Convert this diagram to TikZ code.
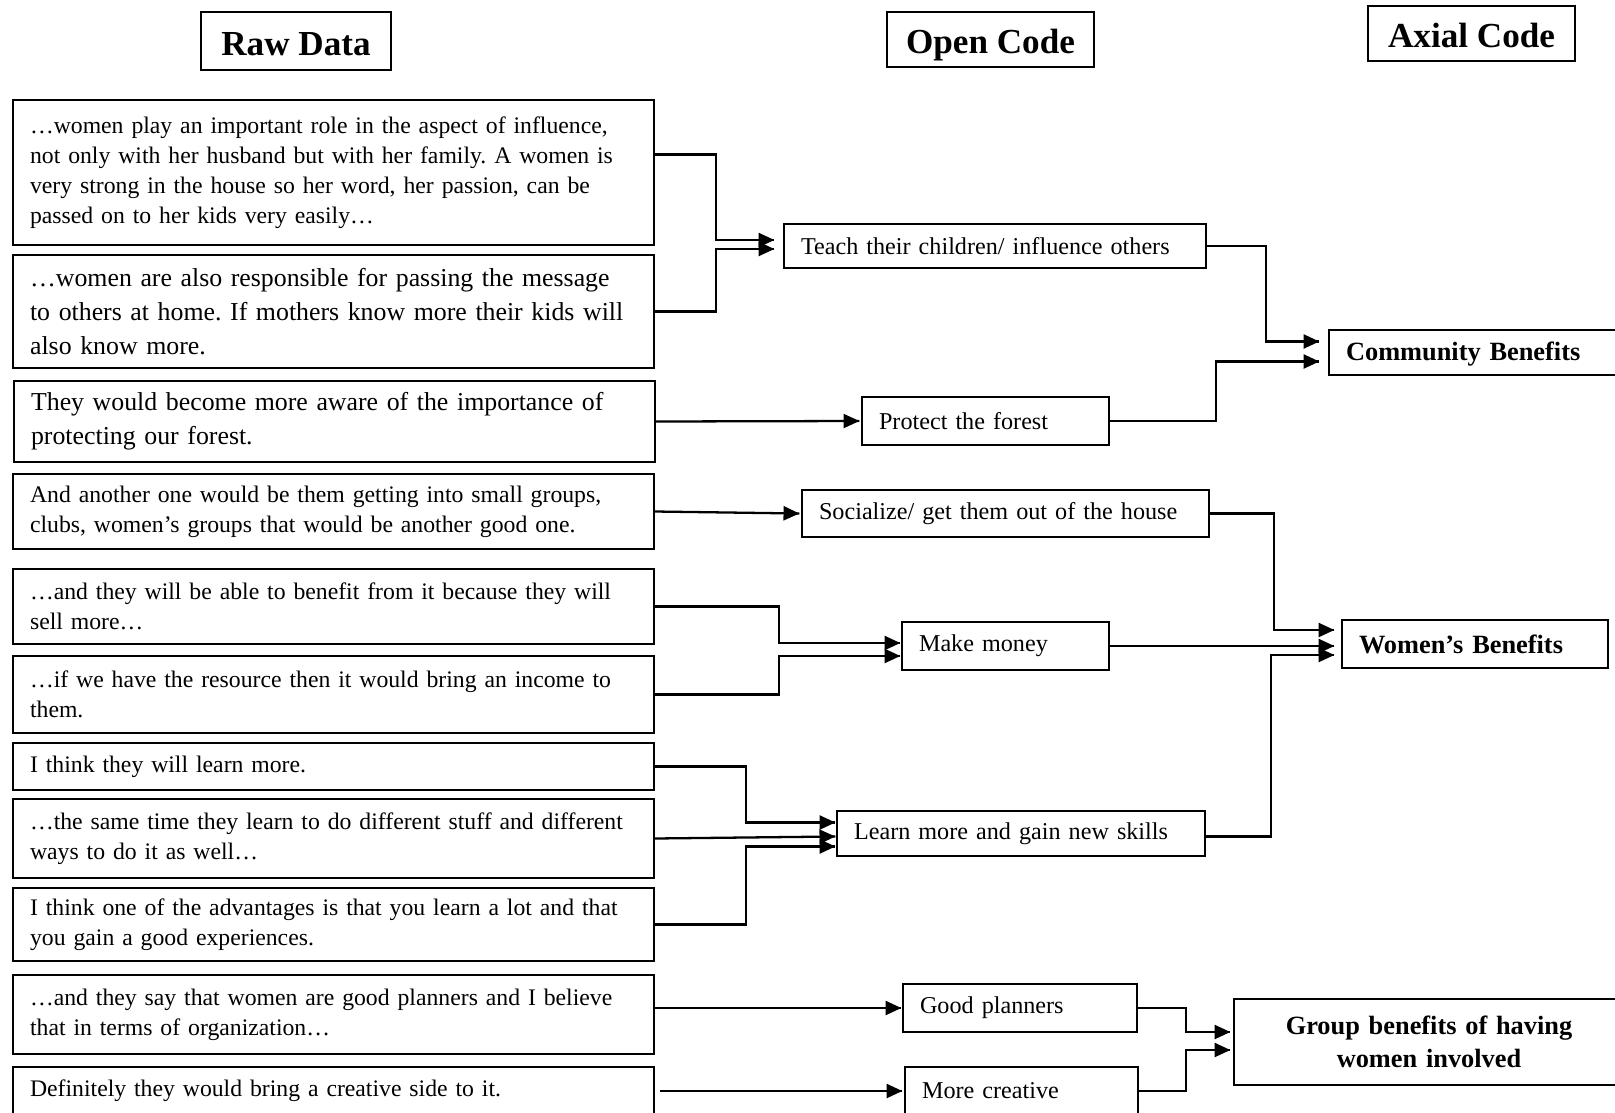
\documentclass[tikz,border=0pt]{standalone}
\usepackage{fontspec}
\setmainfont{Liberation Serif}
\frenchspacing
\usetikzlibrary{arrows.meta}
\usetikzlibrary{calc}
\usetikzlibrary{decorations.markings}
\tikzset{feed/.style = {line width=1.3pt,
                        decoration={markings,
                                    mark=at position 1 with {\arrow{Triangle[length=9pt, width=8pt]}}},
                        postaction={decorate}}}
\tikzset{head/.style = {draw, line width=0.8pt, inner sep=0, text height=16pt, text depth=0pt,
                        font=\fontsize{20}{24}\selectfont\bfseries}}
\tikzset{rawbox/.style = {draw, line width=0.8pt, align=left, inner xsep=0.34cm, inner ysep=0,
                          text width=12.14cm, font=\fontsize{13.5}{17}\selectfont}}
\tikzset{loud/.style = {font=\fontsize{14.7}{19.2}\selectfont}}
\tikzset{openbox/.style = {draw, line width=0.8pt, align=left, inner xsep=0.34cm, inner ysep=0,
                           font=\fontsize{13.75}{17}\selectfont}}
\tikzset{axialbox/.style = {openbox, font=\fontsize{15}{18.7}\selectfont\bfseries}}

\begin{document}
\begin{tikzpicture}[x=0.02cm, y=-0.02cm]
  \useasboundingbox (0,0) rectangle (1615,1112);

  % column heads
  \node [head, minimum width=3.8cm, minimum height=1.16cm] (rawhead) at (296,41) {Raw Data};
  \node [head, minimum width=4.14cm, minimum height=1.1cm] (openhead) at (990.5,39.5) {Open Code};
  \node [head, minimum width=4.14cm, minimum height=1.1cm] (axialhead) at (1471.5,33.5) {Axial Code};

  % raw data
  \node [rawbox, minimum height=2.9cm] (raw1) at (333.5,172.5)
    {…women play an important role in the aspect of influence,\\
     not only with her husband but with her family. A women is\\
     very strong in the house so her word, her passion, can be\\
     passed on to her kids very easily…};
  \node [rawbox, loud, minimum height=2.26cm] (raw2) at (333.5,311.5)
    {…women are also responsible for passing the message\\
     to others at home. If mothers know more their kids will\\
     also know more.};
  \node [rawbox, loud, minimum height=1.62cm] (raw3) at (334.5,421.5)
    {They would become more aware of the importance of\\
     protecting our forest.};
  \node [rawbox, minimum height=1.5cm] (raw4) at (333.5,511.5)
    {And another one would be them getting into small groups,\\
     clubs, women’s groups that would be another good one.};
  \node [rawbox, minimum height=1.5cm] (raw5) at (333.5,606.5)
    {…and they will be able to benefit from it because they will\\
     sell more…};
  \node [rawbox, minimum height=1.54cm] (raw6) at (333.5,694.5)
    {…if we have the resource then it would bring an income to\\
     them.};
  \node [rawbox, minimum height=0.94cm] (raw7) at (333.5,766.5)
    {I think they will learn more.};
  \node [rawbox, minimum height=1.58cm] (raw8) at (333.5,838.5)
    {…the same time they learn to do different stuff and different\\
     ways to do it as well…};
  \node [rawbox, minimum height=1.46cm] (raw9) at (333.5,924.5)
    {I think one of the advantages is that you learn a lot and that\\
     you gain a good experiences.};
  \node [rawbox, minimum height=1.58cm] (raw10) at (333.5,1014.5)
    {…and they say that women are good planners and I believe\\
     that in terms of organization…};
  \node [rawbox, minimum height=0.96cm] (raw11) at (333.5,1091)
    {Definitely they would bring a creative side to it.};

  % open codes
  \node [openbox, text width=7.76cm, minimum height=0.88cm] (teach) at (995,246)
    {Teach their children/ influence others};
  \node [openbox, text width=4.26cm, minimum height=0.96cm] (protect) at (985.5,421)
    {Protect the forest};
  \node [openbox, text width=7.46cm, minimum height=0.94cm] (social) at (1005.5,513.5)
    {Socialize/ get them out of the house};
  \node [openbox, text width=3.46cm, minimum height=0.96cm] (money) at (1005.5,646)
    {Make money};
  \node [openbox, text width=6.68cm, minimum height=0.9cm] (learn) at (1021,833.5)
    {Learn more and gain new skills};
  \node [openbox, text width=4cm, minimum height=0.96cm] (plan) at (1020,1008)
    {Good planners};
  \node [openbox, text width=3.98cm, minimum height=0.96cm] (create) at (1021.5,1091)
    {More creative};

  % axial codes
  \node [axialbox, text width=5.24cm, minimum height=0.9cm, text depth=1pt] (commu) at (1477,352.5)
    {Community Benefits};
  \node [axialbox, text width=4.64cm, minimum height=0.96cm] (women) at (1475,644)
    {Women’s Benefits};
  \node [axialbox, align=center, text width=7.12cm, minimum height=1.72cm] (group) at (1429,1042)
    {Group benefits of having\\ women involved};

  % raw data -> open codes
  \draw [feed] ($(raw1.east)+(0,-18)$) -- ++(61,0) |- ($(teach.west)+(-9,-6)$);
  \draw [feed] (raw2.east) -- ++(61,0) |- ($(teach.west)+(-9,3)$);
  \draw [feed] (raw3.east) -- ($(protect.west)+(-2,0)$);
  \draw [feed] (raw4.east) -- ($(social.west)+(-2,0)$);
  \draw [feed] (raw5.east) -- ++(124,0) |- ($(money.west)+(-1,-3)$);
  \draw [feed] (raw6.east) -- ++(124,0) |- ($(money.west)+(-1,10)$);
  \draw [feed] (raw7.east) -- ++(91,0) |- ($(learn.west)+(-1,-11)$);
  \draw [feed] (raw8.east) -- ($(learn.west)+(-1,3)$);
  \draw [feed] (raw9.east) -- ++(91,0) |- ($(learn.west)+(-1,13)$);
  \draw [feed] (raw10.east |- plan.west) -- ($(plan.west)+(-1,0)$);
  \draw [feed] ($(raw11.east)+(5,0)$) -- ($(create.west)+(-2,0)$);

  % open codes -> axial codes
  \draw [feed] (teach.east) -- ++(59,0) |- ($(commu.west)+(-9,-11)$);
  \draw [feed] (protect.east) -- ++(106,0) |- ($(commu.west)+(-9,9)$);
  \draw [feed] (social.east) -- ++(64,0) |- ($(women.west)+(-7,-14)$);
  \draw [feed] (money.east) -- ($(money.east -| women.west)+(-7,0)$);
  \draw [feed] ($(learn.east)+(0,3)$) -- ++(65,0) |- ($(women.west)+(-7,11)$);
  \draw [feed] (plan.east) -- ++(48,0) |- ($(group.west)+(-3,-10)$);
  \draw [feed] (create.east) -- ++(47,0) |- ($(group.west)+(-3,8)$);
\end{tikzpicture}
\end{document}
